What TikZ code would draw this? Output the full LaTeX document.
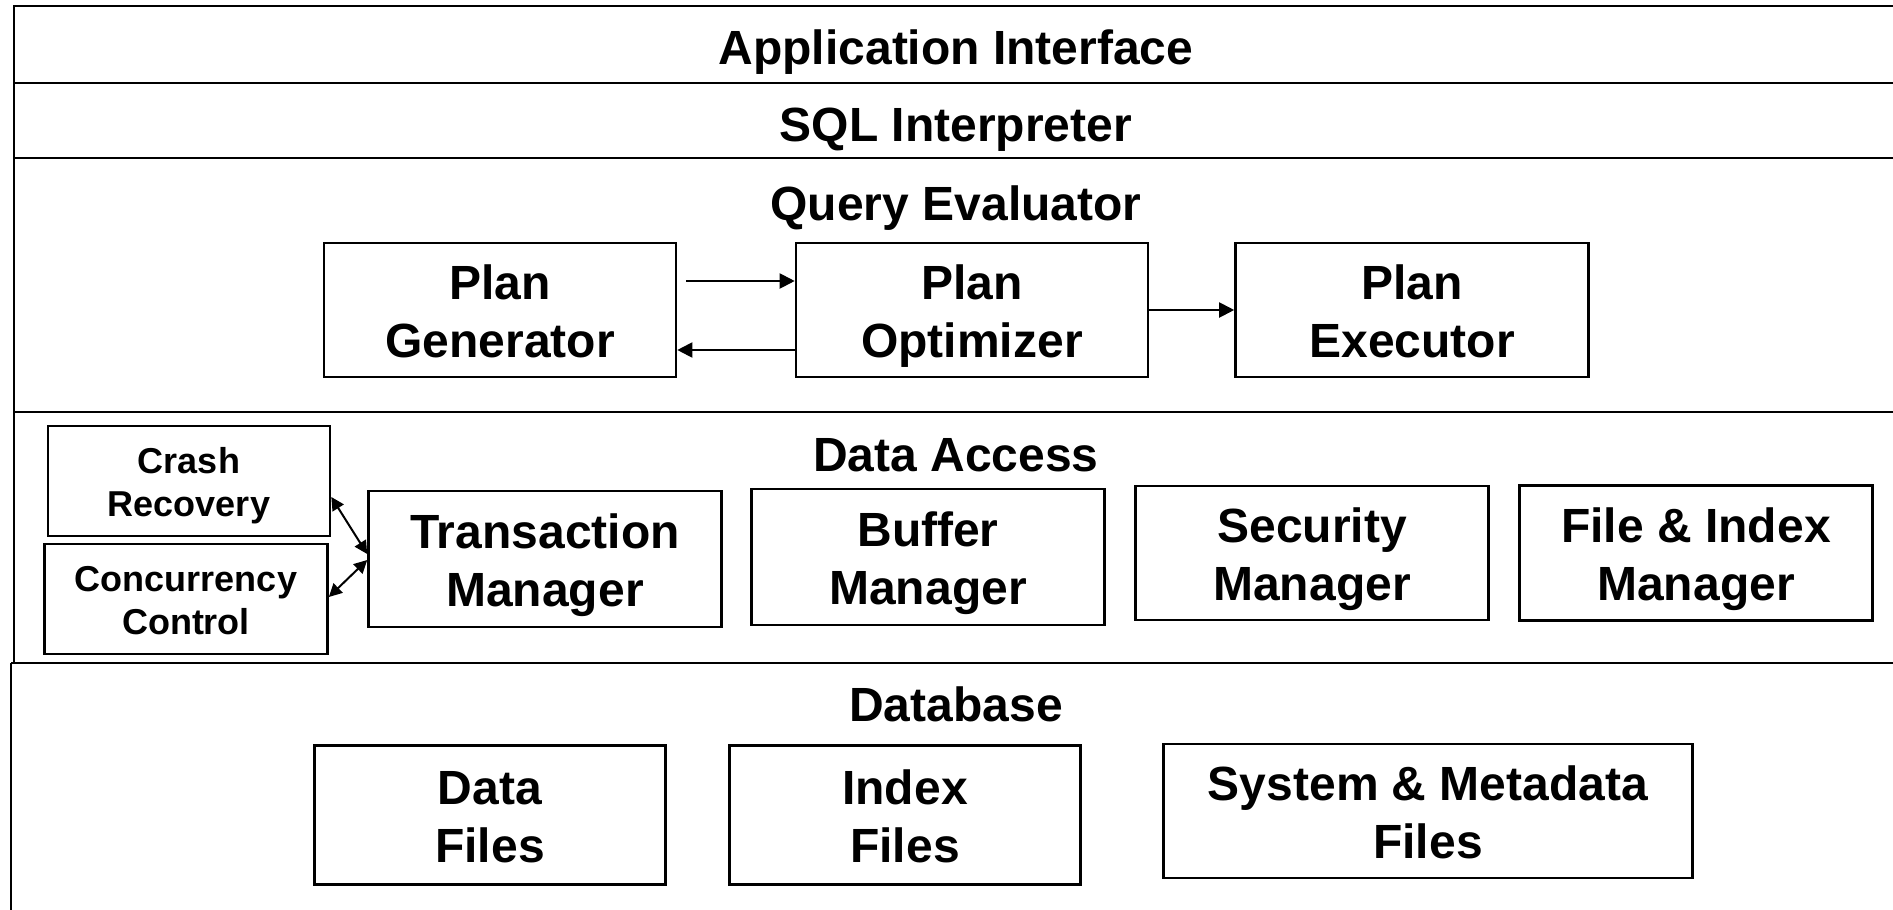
\documentclass[tikz,border=0pt]{standalone}
\usepackage{fontspec}
\setmainfont{Liberation Sans}
\usetikzlibrary{arrows.meta,calc}
\begin{document}
\begin{tikzpicture}[x=1pt,y=-1pt,
  layerline/.style={line width=2.6pt},
  box/.style={draw,line width=2.6pt,inner sep=0pt,align=center,text height=94pt,text depth=0pt,font=\bfseries\fontsize{48}{58}\selectfont},
  smallbox/.style={draw,line width=2.6pt,inner sep=0pt,align=center,text height=71pt,text depth=0pt,font=\bfseries\fontsize{36}{43}\selectfont},
  layertitle/.style={font=\bfseries\fontsize{48}{58}\selectfont,inner sep=0pt,text height=35pt,text depth=0pt},
  arr/.style={line width=2pt,-{Triangle[length=15pt,width=15pt]}},
  darr/.style={line width=2pt,{Triangle[length=13pt,width=13pt]}-{Triangle[length=13pt,width=13pt]}}]
\useasboundingbox (0,0) rectangle (1893,910);
% layer frame
\draw[layerline] (1893,6) -- (14,6) -- (14,663);
\draw[layerline] (14,83) -- (1893,83);
\draw[layerline] (14,158) -- (1893,158);
\draw[layerline] (14,412) -- (1893,412);
\draw[layerline] (11,663) -- (1893,663);
\draw[layerline] (11,663) -- (11,910);
% layer titles
\node[layertitle] (ai) at (956,47) {Application Interface};
\node[layertitle] (sql) at (956,124) {SQL Interpreter};
\node[layertitle] (qe) at (956,203) {Query Evaluator};
\node[layertitle] (da) at (956,454) {Data Access};
\node[layertitle] (db) at (956,704) {Database};
% query evaluator boxes
\node[box,minimum width=352pt,minimum height=134pt] (pg) at (500,310) {Plan\\Generator};
\node[box,minimum width=352pt,minimum height=134pt] (po) at (972,310) {Plan\\Optimizer};
\node[box,minimum width=353pt,minimum height=134pt] (pe) at (1412,310) {Plan\\Executor};
\draw[arr] ($(pg.east)+(9,-29)$) -- ($(po.west)+(0,-29)$);
\draw[arr] ($(po.west)+(0,40)$) -- ($(pg.east)+(0,40)$);
\draw[arr] (po.east) -- (pe.west);
% data access boxes
\node[smallbox,minimum width=282pt,minimum height=110pt] (cr) at (189,481) {Crash\\Recovery};
\node[smallbox,minimum width=283pt,minimum height=110pt] (cc) at (186,599) {Concurrency\\Control};
\node[box,minimum width=353pt,minimum height=136pt] (tm) at (545,559) {Transaction\\Manager};
\node[box,minimum width=353pt,minimum height=136pt] (bm) at (928,557) {Buffer\\Manager};
\node[box,minimum width=353pt,minimum height=134pt] (sm) at (1312,553) {Security\\Manager};
\node[box,minimum width=353pt,minimum height=135pt] (fim) at (1696,553) {File \& Index\\Manager};
\draw[darr] ($(tm.west)+(0,-5)$) -- ($(cr.east)+(0,16)$);
\draw[darr] ($(tm.west)+(0,1)$) -- ($(cc.east)+(0,-2)$);
% database boxes
\node[box,minimum width=351pt,minimum height=139pt] (df) at (490,815) {Data\\Files};
\node[box,minimum width=351pt,minimum height=139pt] (if) at (905,815) {Index\\Files};
\node[box,minimum width=529pt,minimum height=134pt] (smf) at (1428,811) {System \& Metadata\\Files};
\end{tikzpicture}
\end{document}
